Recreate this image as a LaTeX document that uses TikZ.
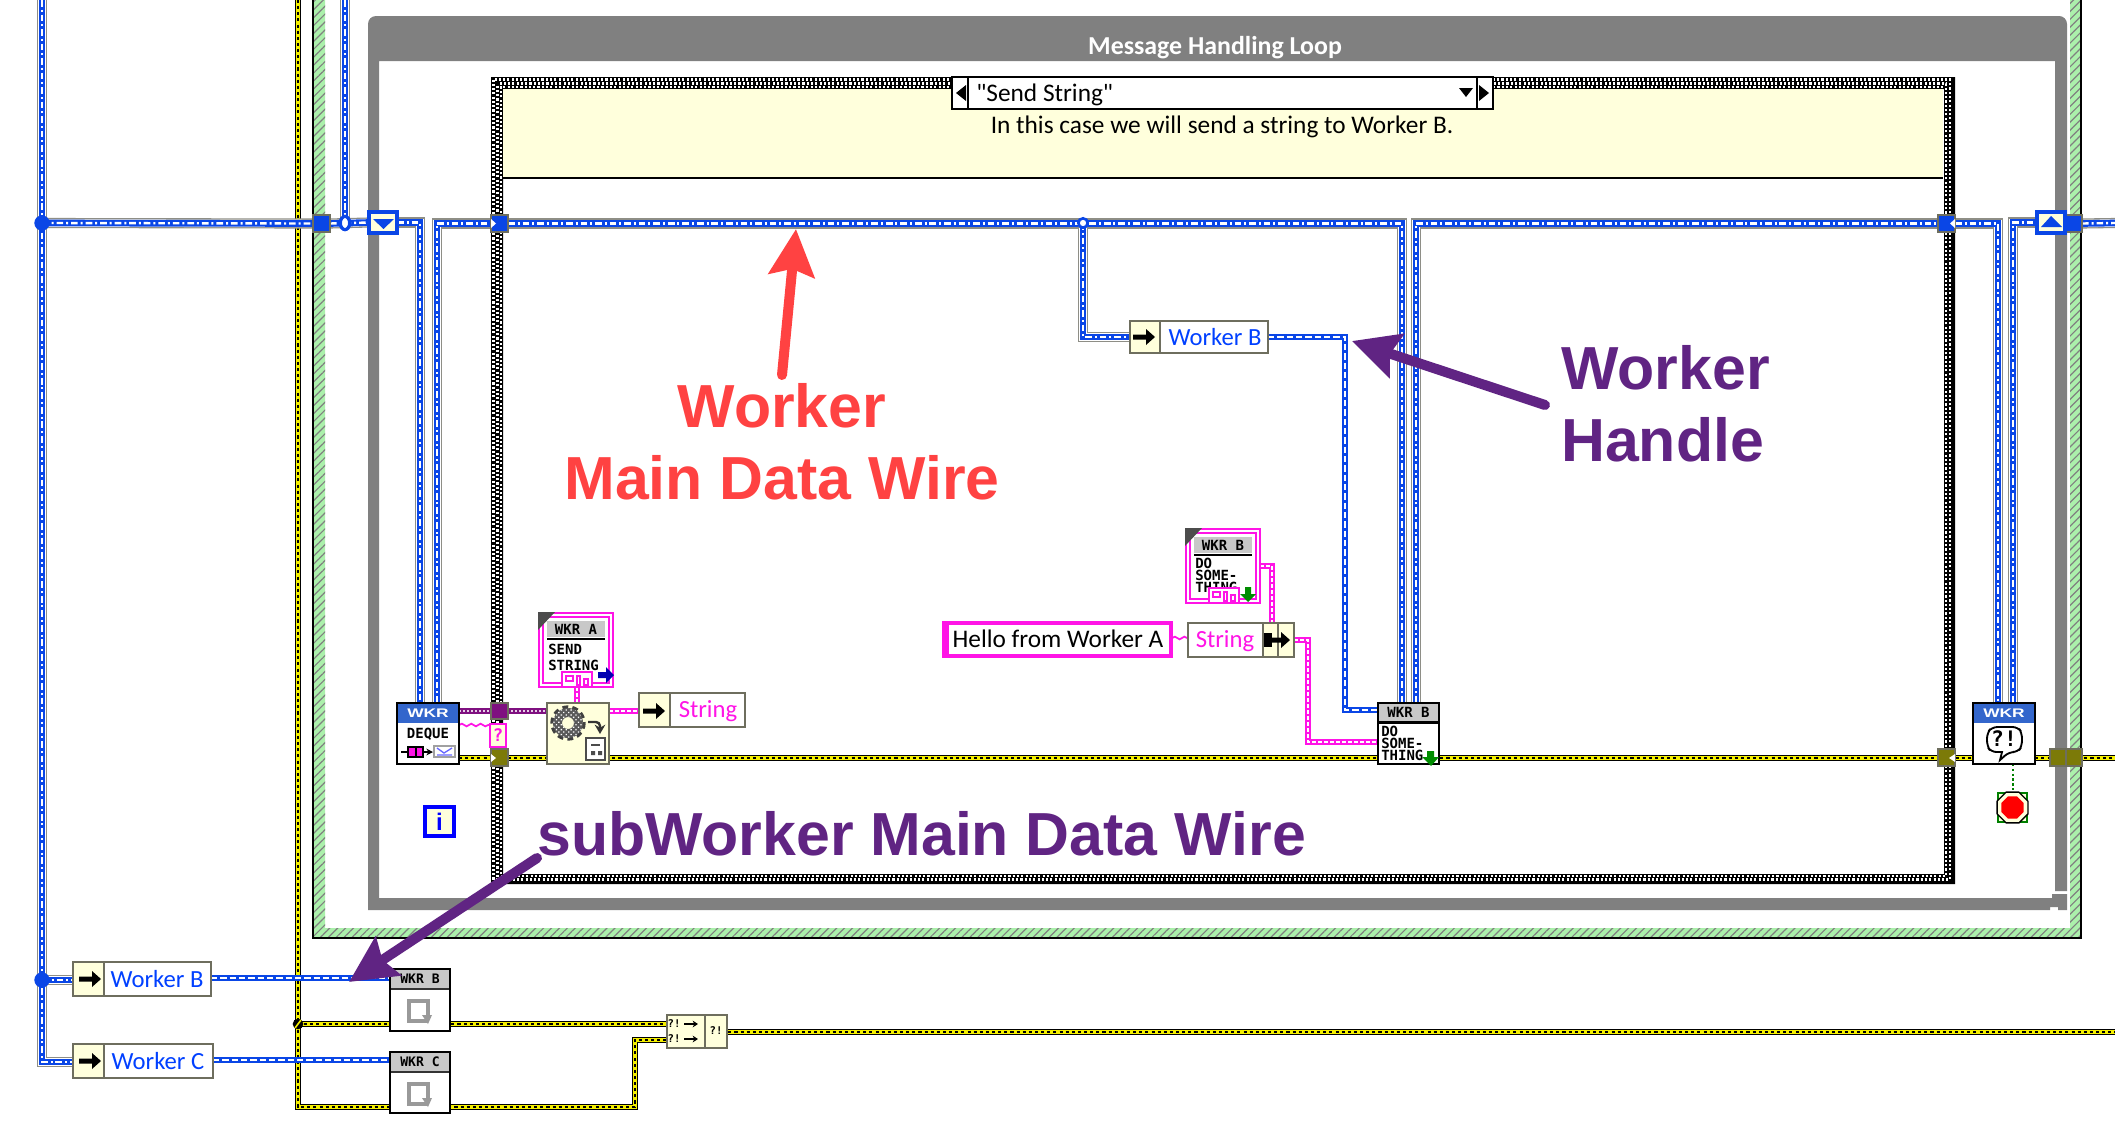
\documentclass[tikz,border=0pt]{standalone}
\usepackage{fontspec}
\setmainfont{Carlito}
\newfontfamily\uiplain{Carlito}
\newfontfamily\annfont{Liberation Sans}
\newfontfamily\pixfont{DejaVu Sans Mono}
\usetikzlibrary{arrows.meta,patterns.meta,shapes.geometric,decorations.pathmorphing,calc}
\definecolor{wblue}{HTML}{0A46E6}
\definecolor{wgray}{HTML}{8E8E86}
\definecolor{wyellow}{HTML}{F5F000}
\definecolor{wmag}{HTML}{FF14E6}
\definecolor{wpurple}{HTML}{7F1080}
\definecolor{cream}{HTML}{FFFFDC}
\definecolor{olive}{HTML}{7C7A08}
\definecolor{hatchg}{HTML}{ABF0AB}
\definecolor{loopg}{HTML}{808080}
\definecolor{annred}{HTML}{FF4242}
\definecolor{annpur}{HTML}{602483}
\definecolor{hdrblue}{HTML}{3366CC}
\definecolor{hdrgray}{HTML}{C8C8C8}
\definecolor{edgeg}{HTML}{6E6E5E}
\tikzset{
  classwire/.style={line join=miter,draw=wgray,line width=7.6pt,
    postaction={draw=white,line width=5.6pt},
    postaction={draw=wblue,line width=5pt},
    postaction={draw=white,line width=1.8pt,dash pattern=on 5pt off 2.2pt on 1.5pt off 2.2pt}},
  threadwire/.style={line join=miter,draw=wblue,line width=4.2pt,
    postaction={draw=white,line width=1.7pt,dash pattern=on 4.8pt off 2.2pt}},
  errwire/.style={line join=miter,draw=black,line width=4.8pt,
    postaction={draw=wyellow,line width=3.4pt},
    postaction={draw=black,line width=1.8pt,dash pattern=on 2.3pt off 2.3pt}},
  strwire/.style={line join=miter,draw=wmag,line width=4.4pt,
    postaction={draw=white,line width=1.5pt,dash pattern=on 3pt off 1.5pt}},
  purpwire/.style={line join=miter,draw=wpurple,line width=4.4pt,
    postaction={draw=white!80!wpurple,line width=1.4pt,dash pattern=on 1.5pt off 1.5pt}},
  thinpink/.style={draw=wmag,line width=1.3pt,decorate,decoration={snake,amplitude=1pt,segment length=7pt}},
  plain/.style={inner sep=0pt,outer sep=0pt},
  creambox/.style={plain,draw=edgeg,fill=cream,line width=1.5pt},
  whitebox/.style={plain,draw=edgeg,fill=white,line width=1.5pt},
  viframe/.style={plain,draw=black,fill=white,line width=1.8pt},
  tunblue/.style={plain,draw=edgeg,fill=wblue,line width=1.4pt},
  tunolive/.style={plain,draw=edgeg,fill=olive,line width=1.4pt},
  shiftreg/.style={plain,draw=wblue,fill=cream,line width=3pt},
  hdrgrey/.style={plain,fill=hdrgray},
  hdrblu/.style={plain,fill=hdrblue},
  uitext/.style={inner sep=0pt,font=\fontsize{18.5}{20}\selectfont},
  uibig/.style={inner sep=0pt,font=\uiplain\fontsize{19}{20}\selectfont},
  pix/.style={inner sep=0pt,font=\pixfont\bfseries\fontsize{10.5}{9}\selectfont,align=left},
  annred/.style={inner sep=0pt,text=annred,font=\annfont\bfseries\fontsize{45.6}{54}\selectfont},
  annpur/.style={inner sep=0pt,text=annpur,font=\annfont\bfseries\fontsize{45.6}{54}\selectfont},
  redarrow/.style={draw=annred,fill=annred,line width=7.5pt,line cap=round,-{Stealth[length=35pt,width=34pt,inset=5pt]}},
  purarrow/.style={draw=annpur,fill=annpur,line width=7.5pt,line cap=round,-{Stealth[length=35pt,width=34pt,inset=5pt]}},
  constframe/.style={plain,draw=wmag,fill=white,line width=1.5pt},
  checkrow/.style={draw=white,line width=1.7pt,dash pattern=on 1.6pt off 1.6pt}
}
\newcommand{\nbox}[6][]{\node[#1,minimum width={(#4-#2)*0.75pt},minimum height={(#5-#3)*0.75pt}] (#6) at ({(#2+#4)/2},{(#3+#5)/2}) {};}
\newcommand{\blkarrow}[2]{\fill[black,shift={(#1,#2)}] (-11,-2.5)--(2,-2.5)--(2,-8)--(11,0)--(2,8)--(2,2.5)--(-11,2.5)--cycle;}
\newcommand{\busicon}[2]{\begin{scope}[shift={(#1,#2)}]
  \fill[white] (23,59) rectangle (53,72);
  \draw[wmag,line width=1.5pt] (23,73)--(23,59)--(53,59)--(53,73);
  \draw[wmag,line width=1.2pt] (27,63) rectangle (34,68);
  \draw[wmag,line width=1.2pt] (38,63) rectangle (41,72);
  \draw[wmag,line width=1.2pt] (45,66) rectangle (49,72);
\end{scope}}
\newcommand{\tdconst}[6]{% name,x,y,header,lines,text y
  \nbox[constframe]{#2}{#3}{(#2+74)}{(#3+74)}{#1}
  \begin{scope}[shift={(#2,#3)}]
    \draw[wmag,line width=1.2pt] (4,4) rectangle (70,70);
    \fill[white] (6,6) rectangle (68,68);
    \fill[black!70] (-1,-1)--(16,-1)--(-1,17)--cycle;
    \fill[hdrgray] (8,8) rectangle (66,24);
    \fill[black] (8,25) rectangle (66,27);
    \node[pix,anchor=center] (#1h) at (37,16) {#4};
    \node[pix,anchor=north west] (#1t) at (9,#6) {#5};
  \end{scope}
  \busicon{#2}{#3}
}
\begin{document}
\begin{tikzpicture}[x=0.75pt,y=-0.75pt]
\useasboundingbox (0,0) rectangle (2115,1139);
\clip (0,0) rectangle (2115,1139);
\fill[white] (0,0) rectangle (2115,1139);
% green frame
\fill[hatchg,even odd rule] (313,-5) rectangle (2081,938) (325,-5) rectangle (2070,928);
\fill[pattern={Lines[angle=45,distance=4.2pt,line width=.9pt]},pattern color=black!50,even odd rule] (313,-5) rectangle (2081,938) (325,-5) rectangle (2070,928);
\draw[black,line width=1.5pt] (313,-5)--(313,938)--(2081,938)--(2081,-5);
% grey while loop
\fill[loopg] (368,910)--(368,26) [rounded corners=6pt] --(368,16)--(2067,16)[sharp corners]--(2067,891)--(2055,891)--(2055,61)--(379,61)--(379,898)--(2052,898)--(2052,894)--(2067,894)--(2067,910)--(2058,910)--(2058,907)--(2050,907)--(2050,910)--cycle;
\node[inner sep=0pt,text=white,font=\bfseries\fontsize{19.4}{20}\selectfont] (looptitle) at (1215,48) {Message Handling Loop};
% case structure
\fill[black,even odd rule] (491,77) rectangle (1955,884) (503,89) rectangle (1944,874);
\draw[checkrow] (493.5,79.5) rectangle (1950,879.5);
\draw[checkrow,dash phase=1.6pt] (497.5,83.5) rectangle (1946,876);
\draw[checkrow] (501,874)--(501,87)--(1944,87);
\nbox[plain,fill=cream]{503}{89}{1943}{178}{note}
\draw[black,line width=1.5pt] (note.south west)--(note.south east);
\node[uibig,text=black] (notetxt) at (1222,127) {In this case we will send a string to Worker B.};
\nbox[plain,draw=black,fill=white,line width=1.5pt]{952}{77}{1493}{109}{sel}
\fill[white] (953,78) rectangle (967,108);
\draw[black,line width=1.5pt] (968,77)--(968,109) (1477,77)--(1477,109);
\fill[black] (956,93)--(966,85)--(966,101)--cycle (1489,93)--(1479,85)--(1479,101)--cycle (1459,88)--(1473,88)--(1466,97)--cycle;
\node[uibig,anchor=west] (seltxt) at (976,95) {"Send String"};
% coordinates
\coordinate (jL) at (42,223); \coordinate (topL) at (42,0); \coordinate (botL) at (42,1062);
\coordinate (jW) at (42,980);
\coordinate (jS) at (345,223); \coordinate (topS) at (345,0);
\coordinate (dq1) at (420,703); \coordinate (dq2) at (437,703);
\coordinate (ds1) at (1402,703); \coordinate (ds2) at (1416,703);
\coordinate (ck1) at (1998,703); \coordinate (ck2) at (2013,703);
\coordinate (endB) at (2115,223);
\coordinate (jT) at (1083,223);
\coordinate (c1345) at (1345,710); \coordinate (dsw) at (1378,710);
\coordinate (cM) at (1308,742); \coordinate (dsm) at (1378,742);
\coordinate (c2o) at (1260,566); \coordinate (c2b) at (1272,623);
\coordinate (yTop) at (298,0); \coordinate (yBot) at (298,1107); \coordinate (yR) at (635,1107); \coordinate (yU) at (635,1040); \coordinate (yM2) at (667,1040);
\coordinate (jY) at (298,1024); \coordinate (yM1) at (667,1024);
\coordinate (yEnd) at (2115,1032);
\coordinate (yA) at (459,758); \coordinate (yE) at (2115,758);
\coordinate (pA) at (459,711); \coordinate (pB) at (547,711);
\coordinate (sA) at (609,711); \coordinate (sB) at (639,711);
\coordinate (pkA) at (459,725); \coordinate (pkB) at (491,725);
\coordinate (hlA) at (1172,638); \coordinate (hlB) at (1188,638);
\coordinate (stA) at (2013,764); \coordinate (stB) at (2013,792);
% yellow wires under blue
\draw[errwire] (yTop)--(yBot)--(yR)--(yU)--(yM2);
\draw[errwire] (jY)--(yM1);
\draw[errwire] (yA)--(yE);
\draw[errwire] (667,1032)--(yEnd);
% terminal anchors
\nbox[plain]{313}{215}{330}{232}{tunA}
\nbox[plain]{491}{215}{508}{232}{tunC}
\nbox[plain]{1938}{215}{1955}{232}{tunD}
\nbox[plain]{2066}{215}{2082}{232}{tunF}
\nbox[plain]{369}{212}{397}{233}{srL}
\nbox[plain]{2037}{212}{2065}{233}{srR}
% blue class wires
\draw[classwire] (topL)--(botL)--(73,1062);
\draw[classwire] (jW)--(73,980);
\draw[classwire] (jL)--(tunA.west);
\draw[classwire] (tunA.east)--(srL.west);
\draw[classwire] (topS)--(jS);
\draw[classwire] (srL.east)-|(dq1);
\draw[classwire] (dq2)|-(tunC.west);
\draw[classwire] (tunC.east)-|(ds1);
\draw[classwire] (ds2)|-(tunD.west);
\draw[classwire] (tunD.east)-|(ck1);
\draw[classwire] (ck2)|-(srR.west);
\draw[classwire] (tunF.east)--(endB);
\draw[classwire] (jT)--(1083,337)--(1130,337);
% terminals on top
\nbox[tunblue]{313}{215}{330}{232}{tunAx}
\nbox[tunblue]{491}{215}{508}{232}{tunCx}
\nbox[tunblue]{1938}{215}{1955}{232}{tunDx}
\nbox[tunblue]{2066}{215}{2082}{232}{tunFx}
\nbox[shiftreg]{369}{212}{397}{233}{srLx}
\nbox[shiftreg]{2037}{212}{2065}{233}{srRx}
\fill[wblue] (373,219)--(394,219)--(383.5,229)--cycle;
\fill[wblue] (2041,227)--(2062,227)--(2051,216)--cycle;
\fill[white] (491,219)--(496,223.5)--(491,228)--cycle;
\fill[white] (1955,219)--(1950,223.5)--(1955,228)--cycle;
% junctions
\node[plain,circle,fill=wblue,minimum size=11.5] (jLd) at (jL) {};
\node[plain,circle,fill=wblue,minimum size=11.5] (jWd) at (jW) {};
\node[plain,ellipse,draw=wblue,fill=white,line width=2.4pt,minimum width=7,minimum height=10] (jSd) at (jS) {};
\node[plain,ellipse,draw=wblue,fill=white,line width=2pt,minimum width=7,minimum height=7] (jTd) at (jT) {};
\node[plain,circle,fill=black,minimum size=8] (jYd) at (jY) {};
\draw[wyellow,line width=1.2pt] (295,1028)--(301,1020);
% wires inside case
\nbox[plain]{1130}{321}{1268}{353}{wbu}
\draw[threadwire] (wbu.east)-|(c1345)--(dsw);
\draw[purpwire] (pA)--(pB);
\draw[strwire] (sA)--(sB);
\draw[thinpink] (pkA)--(pkB);
\draw[strwire] (577,687)--(577,703);
\draw[strwire] (1294,640)-|(cM)--(dsm);
\draw[strwire] (c2o)-|(c2b);
\draw[thinpink] (hlA)--(hlB);
\draw[green!50!black,line width=1.6pt,dash pattern=on 1.8pt off 1.8pt] (stA)--(stB);
% lower thin wires
\draw[threadwire] (211,978)--(390,978);
\draw[threadwire] (213,1060)--(390,1060);
% DEQUE
\nbox[viframe]{397}{703}{459}{764}{deq}
\nbox[hdrblu]{398}{704}{458}{723}{deqh}
\node[inner sep=0pt,text=white,font=\annfont\bfseries\fontsize{13}{13}\selectfont] (deqhl) at (deqh) {\scalebox{1}[.72]{WKR}};
\node[pix] (deqt) at (428,734) {DEQUE};
\draw[black,line width=1.2pt,-{Stealth[length=5pt,width=5pt]}] (401,752)--(433,752);
\draw[black,fill=wmag,line width=1pt] (408,747) rectangle (416,757);
\draw[black,fill=wmag,line width=1pt] (416,747) rectangle (423,757);
\draw[hdrgray!80!black,fill=white,line width=1.5pt] (434,746) rectangle (455,757);
\draw[blue!60,line width=1pt] (437,748)--(444,753)--(452,748) (437,755)--(452,755);
% purple tunnel, ? box, olive
\nbox[plain,draw=edgeg,fill=wpurple,line width=1.4pt]{491}{703}{508}{719}{tunP}
\nbox[plain,draw=wmag,fill=cream,line width=1.5pt]{490}{724}{506}{747}{qbox}
\node[inner sep=0pt,text=wmag,font=\pixfont\bfseries\fontsize{13}{13}\selectfont] (qtxt) at (qbox) {?};
\nbox[tunolive]{491}{749}{508}{766}{tunY}
\fill[white] (491,754)--(496,758)--(491,762)--cycle;
% gear box
\nbox[creambox]{547}{703}{609}{764}{gearb}
\draw[black!75,line width=4pt,dash pattern=on 4pt off 3pt] (568,723) circle (15);
\fill[black!65,even odd rule] (568,723) circle (15) (568,723) circle (6);
\fill[pattern={Dots[angle=45,distance=2.6pt,radius=.7pt]},pattern color=white,even odd rule] (568,723) circle (15) (568,723) circle (6);
\draw[black!80,line width=1.8pt,-{Stealth[length=7pt,width=8pt]}] (588,722)--(596,722)to[out=0,in=90](600,734);
\draw[black!70,line width=2pt,fill=white] (586,738) rectangle (605,760);
\draw[black!70,line width=1.5pt] (591,745)--(600,745);
\fill[black!70] (591,751) rectangle (595,755) (598,751) rectangle (602,755);
% String indicator 1
\nbox[whitebox]{639}{693}{745}{727}{ind1}
\fill[cream] (640,694) rectangle (670,726);
\draw[edgeg,line width=1.5pt] (670,693)--(670,727);
\blkarrow{654}{711}
\node[uitext,text=wmag] (ind1t) at (708,711) {String};
% typedef constants
\tdconst{sendc}{539}{613}{WKR A}{SEND\\[3pt]STRING}{31}
\fill[blue!70!black] (598,672)--(606,672)--(606,667)--(614,675)--(606,683)--(606,678)--(598,678)--cycle;
\tdconst{doc}{1186}{529}{WKR B}{DO\\SOME-\\THING}{29}
\fill[green!55!black] (1245,587)--(1245,594)--(1240,594)--(1248,602)--(1256,594)--(1251,594)--(1251,587)--cycle;
% i box
\nbox[plain,draw=blue,fill=cream,line width=2.6pt]{425}{807}{454}{836}{ibox}
\node[inner sep=0pt,text=blue,font=\annfont\bfseries\fontsize{18}{18}\selectfont] (itxt) at (ibox) {i};
% Worker B unbundle
\nbox[creambox]{1130}{321}{1268}{353}{wbuB}
\fill[white] (1160,322) rectangle (1267,352);
\draw[edgeg,line width=1.5pt] (1160,321)--(1160,353);
\blkarrow{1144}{337}
\node[uitext,text=blue!75!cyan] (wbut) at (1215,337) {Worker B};
% Hello constant and bundle
\nbox[plain,draw=wmag,fill=white,line width=3.4pt]{944}{623}{1171}{656}{hello}
\fill[wmag] (942,621) rectangle (949,658);
\node[uibig] (hellot) at (1058,639) {Hello from Worker A};
\nbox[whitebox]{1188}{623}{1294}{657}{bund}
\fill[cream] (1263,624) rectangle (1293,656);
\draw[edgeg,line width=1.5pt] (1263,623)--(1263,657) (1278,623)--(1278,657);
\blkarrow{1279}{640}
\fill[black] (1264,633) rectangle (1272,647);
\node[uitext,text=wmag] (bundt) at (1225,641) {String};
% DO SOMETHING
\nbox[viframe]{1378}{703}{1439}{764}{ds}
\nbox[hdrgrey]{1379}{704}{1438}{721}{dsh}
\fill[black] (1379,721) rectangle (1438,723.5);
\node[pix] (dsl) at (dsh) {WKR B};
\node[pix,anchor=north west] (dst) at (1381,726) {DO\\SOME-\\THING};
\fill[green!55!black] (1427,751)--(1427,757)--(1422,757)--(1431,766)--(1439,757)--(1434,757)--(1434,751)--cycle;
% WKR check
\nbox[viframe]{1973}{703}{2035}{764}{chk}
\nbox[hdrblu]{1974}{704}{2034}{723}{chkh}
\node[inner sep=0pt,text=white,font=\annfont\bfseries\fontsize{13}{13}\selectfont] (chkhl) at (chkh) {\scalebox{1}[.72]{WKR}};
\draw[black,line width=1.4pt,fill=white,rounded corners=4pt] (1992,727)--(2018,727)--(2022,733)--(2022,746)--(2018,752)--(2009,752)[sharp corners]--(2000,760)--(2002,752)[rounded corners=4pt]--(1991,752)--(1987,746)--(1987,733)--cycle;
\node[inner sep=0pt,font=\pixfont\bfseries\fontsize{16}{16}\selectfont] (chktxt) at (2004,739) {?!};
% stop
\nbox[plain,draw=green!50!black,fill=cream,line width=2pt]{1998}{793}{2027}{822}{stopb}
\node[plain,regular polygon,regular polygon sides=8,draw=black,fill=cream,line width=1pt,minimum size=25] (stopo) at (stopb) {};
\node[plain,regular polygon,regular polygon sides=8,fill=red,minimum size=18] (stopi) at (stopb) {};
% olive tunnels right
\nbox[tunolive]{1938}{749}{1955}{766}{tunYr}
\fill[white] (1955,754)--(1949,758)--(1955,762)--cycle;
\nbox[tunolive]{2050}{749}{2066}{766}{tunS1}
\nbox[tunolive]{2066}{749}{2082}{766}{tunS2}
% lower left indicators
\nbox[whitebox]{73}{962}{211}{996}{wbl}
\fill[cream] (74,963) rectangle (104,995);
\draw[edgeg,line width=1.5pt] (104,962)--(104,996);
\blkarrow{90}{979}
\node[uitext,text=blue!75!cyan] (wblt) at (157,979) {Worker B};
\nbox[whitebox]{73}{1044}{213}{1078}{wcl}
\fill[cream] (74,1045) rectangle (104,1077);
\draw[edgeg,line width=1.5pt] (104,1044)--(104,1078);
\blkarrow{90}{1061}
\node[uitext,text=blue!75!cyan] (wclt) at (158,1061) {Worker C};
% close ref boxes
\nbox[viframe]{390}{969}{450}{1031}{wkb}
\nbox[hdrgrey]{391}{970}{449}{988}{wkbh}
\fill[black!80] (391,988) rectangle (449,990);
\node[pix,font=\pixfont\bfseries\fontsize{9.8}{9}\selectfont] (wkbl) at (wkbh) {WKR B};
\draw[black!40,line width=2.6pt] (428,1021)--(409,1021)--(409,1001)--(428,1001)--(428,1016);
\fill[black!40] (422,1015)--(432,1015)--(428,1024)--cycle;
\nbox[viframe]{390}{1052}{450}{1113}{wkc}
\nbox[hdrgrey]{391}{1053}{449}{1071}{wkch}
\fill[black!80] (391,1071) rectangle (449,1073);
\node[pix,font=\pixfont\bfseries\fontsize{9.8}{9}\selectfont] (wkcl) at (wkch) {WKR C};
\draw[black!40,line width=2.6pt] (428,1104)--(409,1104)--(409,1084)--(428,1084)--(428,1099);
\fill[black!40] (422,1098)--(432,1098)--(428,1107)--cycle;
% merge errors
\nbox[creambox]{667}{1015}{727}{1048}{merge}
\draw[edgeg,line width=1.5pt] (705,1015)--(705,1048);
\node[inner sep=0pt,font=\pixfont\bfseries\fontsize{8}{8}\selectfont] (mg1) at (674,1024) {?!};
\node[inner sep=0pt,font=\pixfont\bfseries\fontsize{8}{8}\selectfont] (mg2) at (674,1039) {?!};
\node[inner sep=0pt,font=\pixfont\bfseries\fontsize{8}{8}\selectfont] (mg3) at (716,1031) {?!};
\draw[black,line width=1.1pt,-{Stealth[length=4pt,width=5pt]}] (684,1024)--(698,1024);
\draw[black,line width=1.1pt,-{Stealth[length=4pt,width=5pt]}] (684,1039)--(698,1039);
% annotations
\coordinate (rA) at (782,375); \coordinate (rT) at (796,229);
\coordinate (wA) at (1545,405); \coordinate (wT) at (1352,341);
\coordinate (sbA) at (537,858); \coordinate (sbT) at (349,982);
\draw[redarrow] (rA)--(rT);
\draw[purarrow] (wA)--(wT);
\draw[purarrow] (sbA)--(sbT);
\node[annred] (an1) at (782,406) {Worker};
\node[annred] (an2) at (782,478) {Main Data Wire};
\node[annpur,anchor=west] (an3) at (1561,368) {Worker};
\node[annpur,anchor=west] (an4) at (1561,440) {Handle};
\node[annpur,anchor=west] (an5) at (537,834) {subWorker Main Data Wire};
\end{tikzpicture}
\end{document}
